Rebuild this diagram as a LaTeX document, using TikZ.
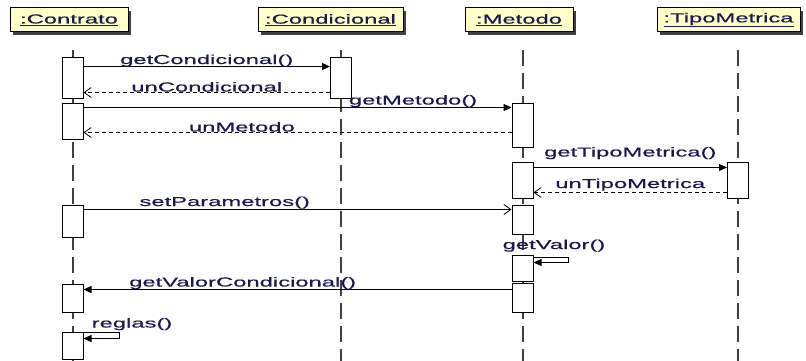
\documentclass[tikz,border=0pt]{standalone}
\usepackage{fontspec}
\usetikzlibrary{arrows.meta,shadows}
\newfontfamily\umlfont[FakeStretch=1.83,FakeBold=0.6]{Liberation Sans}
\definecolor{umltext}{RGB}{25,25,80}
\definecolor{umlyellow}{RGB}{255,255,200}
\definecolor{umlgray}{RGB}{64,64,64}

\begin{document}
\begin{tikzpicture}
        [
        x = 1pt, y = -1pt,
        font = \umlfont\fontsize{13}{15}\selectfont,
        header/.style = {draw, fill=umlyellow, text=umltext, line width=1pt, minimum height=24pt,
            inner sep=0pt, drop shadow={shadow xshift=3pt, shadow yshift=-3pt, fill=umlgray, opacity=1}},
        act/.style = {draw, fill=white, line width=1pt, minimum width=21pt, inner sep=0pt},
        lifeline/.style = {umlgray, line width=2pt, dash pattern=on 16pt off 7pt},
        lbl/.style = {text=umltext, inner sep=0pt, anchor=base},
        ]
        \tikzstyle{call}=[line width=0.8pt, -{Triangle[length=8pt,width=7pt]}]
        \tikzstyle{async}=[line width=0.8pt, -{Straight Barb[length=7pt,width=10pt]}]
        \tikzstyle{reply}=[line width=0.8pt, dash pattern=on 4pt off 3pt, -{Straight Barb[length=7pt,width=10pt]}]

        \useasboundingbox (0,0) rectangle (806,361);

        % objects
        \node[header, minimum width=118pt] (contrato) at (69,20) {\underline{:Contrato}};
        \node[header, minimum width=145pt] (condicional) at (330.5,20) {\underline{:Condicional}};
        \node[header, minimum width=108pt] (metodo) at (519,20) {\underline{:Metodo}};
        \node[header, minimum width=143pt] (tipometrica) at (728.5,20) {\underline{:TipoMetrica}};

        % lifelines
        \foreach \x in {72.5,341,522.5,738}
            \draw[lifeline] (\x,50) -- (\x,361);

        % activations
        \node[act, minimum height=40pt] (ca1) at (72.5,78) {};
        \node[act, minimum height=36pt] (ca2) at (72.5,121) {};
        \node[act, minimum height=32pt] (ca3) at (72.5,221) {};
        \node[act, minimum height=28pt] (ca4) at (72.5,298) {};
        \node[act, minimum height=27pt] (ca5) at (72.5,345.5) {};
        \node[act, minimum height=40pt] (cd1) at (341,78) {};
        \node[act, minimum height=44pt] (mt1) at (522.5,125) {};
        \node[act, minimum height=36pt] (mt2) at (522.5,180) {};
        \node[act, minimum height=29pt] (mt3) at (522.5,219.5) {};
        \node[act, minimum height=26pt] (mt4) at (522.5,268) {};
        \node[act, minimum height=29pt] (mt5) at (522.5,297.5) {};
        \node[act, minimum height=36pt] (tm1) at (738,180) {};

        % messages
        \coordinate (m1) at ([yshift=-9pt]ca1.north east);
        \coordinate (m2) at ([yshift=-35pt]cd1.north west);
        \coordinate (m3) at ([yshift=-5pt]ca2.north east);
        \coordinate (m4) at ([yshift=-30pt]mt1.north west);
        \coordinate (m5) at ([yshift=-6pt]mt2.north east);
        \coordinate (m6) at ([yshift=-31pt]tm1.north west);
        \coordinate (m7) at ([yshift=-5pt]ca3.north east);
        \coordinate (m8) at ([yshift=-7pt]mt5.north west);

        \draw[call] (m1) -- node[lbl, yshift=2.5pt] (lgetcond) {getCondicional()} (m1 -| cd1.west);
        \draw[reply] (m2) -- node[lbl, yshift=1pt] (luncond) {unCondicional} (m2 -| ca1.east);
        \draw[call] (m3) -- node[lbl, pos=0.77, yshift=3pt] (lgetmet) {getMetodo()} (m3 -| mt1.west);
        \draw[reply] (m4) -- node[lbl, pos=0.63, yshift=1pt] (lunmet) {unMetodo} (m4 -| ca2.east);
        \draw[call] (m5) -- node[lbl, yshift=11pt] (lgettipo) {getTipoMetrica()} (m5 -| tm1.west);
        \draw[reply] (m6) -- node[lbl, yshift=4.5pt] (luntipo) {unTipoMetrica} (m6 -| mt2.east);
        \draw[async] (m7) -- node[lbl, pos=0.33, yshift=3.5pt] (lsetpar) {setParametros()} (m7 -| mt3.west);
        \draw[call] (m8) -- node[lbl, pos=0.628, yshift=3pt] (lgetvalcond) {getValorCondicional()} (m8 -| ca4.east);

        % self calls
        \draw[call] ([yshift=-3pt]mt4.north east) -- ++(35,0) -- ++(0,5) -- ([yshift=-8pt]mt4.north east);
        \node[lbl] (lgetvalor) at (554,249) {getValor()};
        \draw[call] ([yshift=-1pt]ca5.north east) -- ++(36,0) -- ++(0,6) -- ([yshift=-7pt]ca5.north east);
        \node[lbl] (lreglas) at (132,327.5) {reglas()};
\end{tikzpicture}
\end{document}
